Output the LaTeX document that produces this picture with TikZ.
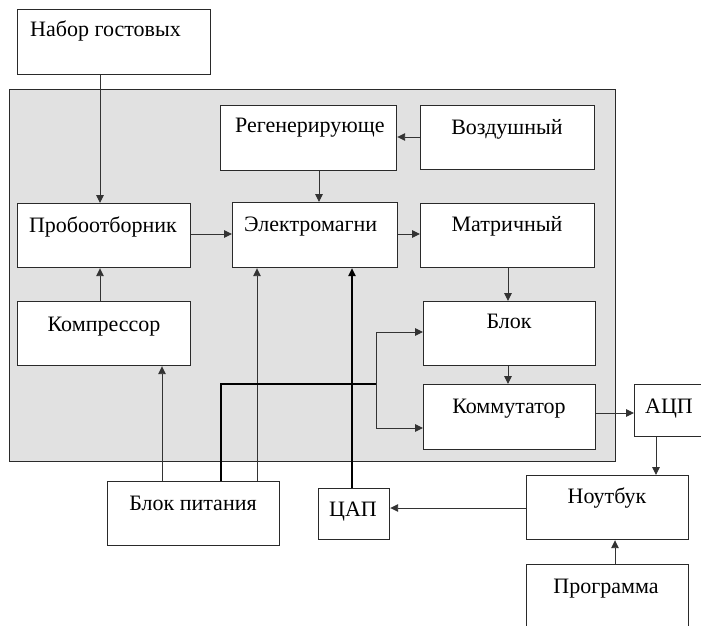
\documentclass[tikz,border=0pt]{standalone}
\usepackage{fontspec}
\setmainfont{Liberation Serif}
\usetikzlibrary{arrows.meta}
\definecolor{panelgray}{HTML}{E1E1E1}
\definecolor{edgecol}{HTML}{2A2A2A}
\definecolor{wirecol}{HTML}{333333}
\begin{document}
\begin{tikzpicture}[x=1pt,y=-1pt,
  box/.style={draw=edgecol, line width=1.2pt, fill=white, inner sep=0pt, anchor=north west, rectangle},
  lbl/.style={inner sep=0pt, font=\fontsize{22}{25}\selectfont, text=black},
  wire/.style={draw=wirecol, line width=0.95pt},
  arr/.style={wire, -{Triangle[length=8pt,width=7.5pt]}},
  thickwire/.style={draw=black, line width=1.1pt}
]
\clip (0,0) rectangle (701,626);
\fill[white] (0,0) rectangle (701,626);
% panel
\node[box, fill=panelgray, line width=1.4pt, minimum width=606pt, minimum height=372pt] (panel) at (9,89) {};
% boxes
\node[box, minimum width=193pt, minimum height=65pt] (nabor) at (17,9) {};
\node[box, minimum width=176pt, minimum height=65pt] (regen) at (220,105) {};
\node[box, minimum width=174pt, minimum height=64pt] (vozd) at (420,105) {};
\node[box, minimum width=173pt, minimum height=64pt] (prob) at (17,203) {};
\node[box, minimum width=165pt, minimum height=65pt] (elec) at (232,202) {};
\node[box, minimum width=174pt, minimum height=64pt] (matr) at (420,203) {};
\node[box, minimum width=173pt, minimum height=64pt] (kompr) at (17,301) {};
\node[box, minimum width=172pt, minimum height=64pt] (blok) at (423,301) {};
\node[box, minimum width=172pt, minimum height=65pt] (komm) at (423,384) {};
\node[box, minimum width=75pt, minimum height=52pt] (acp) at (634,384) {};
\node[box, minimum width=162pt, minimum height=64pt] (nout) at (526,475) {};
\node[box, minimum width=162pt, minimum height=80pt] (prog) at (526,564) {};
\node[box, minimum width=172pt, minimum height=64pt] (bp) at (107,481) {};
\node[box, minimum width=71pt, minimum height=51pt] (cap) at (318,488) {};
% labels
\node[lbl, anchor=base west] (naborT) at (30,37) {Набор гостовых};
\node[lbl, anchor=base west] (regenT) at (235,132) {Регенерирующе};
\node[lbl, anchor=base] (vozdT) at (507,134) {Воздушный};
\node[lbl, anchor=base] (probT) at (103,232) {Пробоотборник};
\node[lbl, anchor=base west] (elecT) at (244,231) {Электромагни};
\node[lbl, anchor=base] (matrT) at (507,231) {Матричный};
\node[lbl, anchor=base] (komprT) at (104,331) {Компрессор};
\node[lbl, anchor=base] (blokT) at (509,328) {Блок};
\node[lbl, anchor=base] (kommT) at (509,413) {Коммутатор};
\node[lbl, anchor=base] (acpT) at (669,413) {АЦП};
\node[lbl, anchor=base] (noutT) at (607,503) {Ноутбук};
\node[lbl, anchor=base] (progT) at (606,593) {Программа};
\node[lbl, anchor=base] (bpT) at (193,510) {Блок питания};
\node[lbl, anchor=base] (capT) at (353,516) {ЦАП};
% connectors
\draw[arr] (100,0 |- nabor.south) -- (100,0 |- prob.north);
\draw[arr] (319,0 |- regen.south) -- (319,0 |- elec.north);
\draw[arr] (vozd.west |- 0,137) -- (regen.east |- 0,137);
\draw[arr] (prob.east |- 0,234) -- (elec.west |- 0,234);
\draw[arr] (elec.east |- 0,234) -- (matr.west |- 0,234);
\draw[arr] (508,0 |- matr.south) -- (508,0 |- blok.north);
\draw[arr] (508,0 |- blok.south) -- (508,0 |- komm.north);
\draw[arr] (100,0 |- kompr.north) -- (100,0 |- prob.south);
\draw[arr] (162,0 |- bp.north) -- (162,0 |- kompr.south);
\draw[arr] (257,0 |- bp.north) -- (257,0 |- elec.south);
\coordinate (bend) at (221,384);
\coordinate (split) at (376,384);
\draw[thickwire] (221,0 |- bp.north) -- (bend) -- (split);
\draw[arr] (split) -- (376,332) -- (blok.west |- 0,332);
\draw[arr] (split) -- (376,428) -- (komm.west |- 0,428);
\draw[thickwire, -{Triangle[length=8pt,width=7.5pt]}] (352,0 |- cap.north) -- (352,0 |- elec.south);
\draw[arr] (nout.west |- 0,508) -- (cap.east |- 0,508);
\draw[arr] (komm.east |- 0,413) -- (acp.west |- 0,413);
\draw[arr] (656,0 |- acp.south) -- (656,0 |- nout.north);
\draw[arr] (615,0 |- prog.north) -- (615,0 |- nout.south);
\end{tikzpicture}
\end{document}
